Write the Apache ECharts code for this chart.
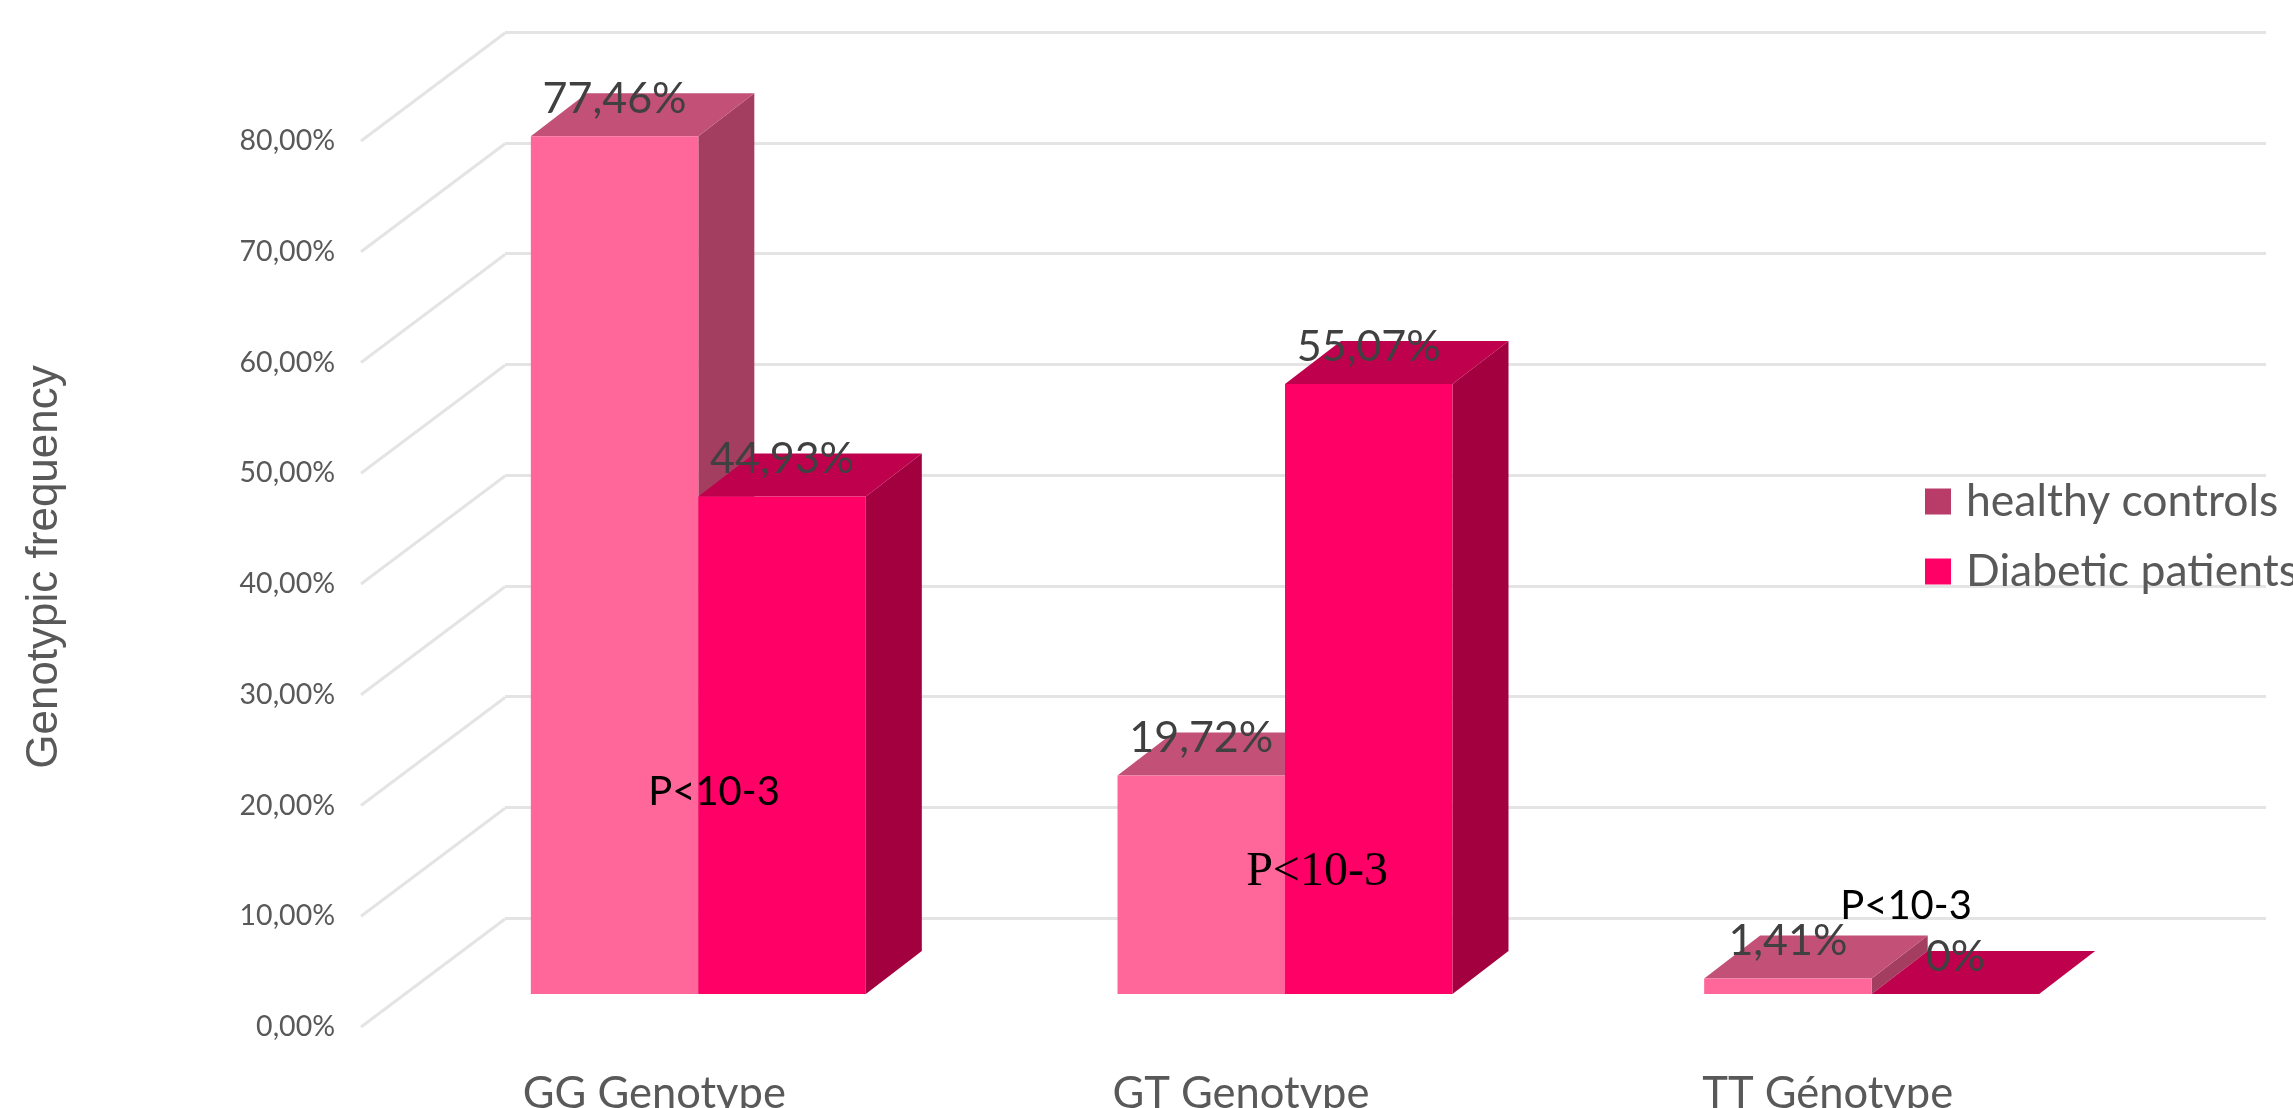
<!DOCTYPE html>
<html>
<head>
<meta charset="utf-8">
<style>html,body{margin:0;padding:0;background:#fff;overflow:hidden}#chart{width:2293px;height:1108px}</style>
<script src="https://cdn.jsdelivr.net/npm/echarts@6/dist/echarts.min.js"></script>
</head>
<body>
<div id="chart"></div>
<script>
const categories = ['GG Genotype', 'GT Genotype', 'TT Génotype'];
const healthyControls = [77.46, 19.72, 1.41];
const diabeticPatients = [44.93, 55.07, 0];
const yTicks = [0, 10, 20, 30, 40, 50, 60, 70, 80];
const seriesNames = ['healthy controls', 'Diabetic patients'];
const significanceNote = 'P<10-3';

const FONT = 'Lato, "Liberation Sans", sans-serif';
const WALL = { dx: 144, dy: -108 };    // axis plane to back wall
const FRONT = { dx: 44, dy: -33 };     // axis plane to bar front faces
const DEPTH = { dx: 56, dy: -43 };     // bar depth
const BAR_FRACTION = 167.5 / 586.7;    // bar width as a share of the category band

const percentLabel = v => v === 0 ? '0%' : v.toFixed(2).replace('.', ',') + '%';

// Extruded bar: front face, top and right side, with its value printed above the top.
function barRenderer(side, colors) {
  return function (params, api) {
    const idx = api.value(0), val = api.value(1);
    const top = api.coord([idx, val]);
    const base = api.coord([idx, 0]);
    const w = api.size([1, 0])[0] * BAR_FRACTION;
    const x0 = top[0] + FRONT.dx + (side < 0 ? -w : 0);
    const x1 = x0 + w;
    const yT = top[1] + FRONT.dy;
    const yB = base[1] + FRONT.dy;
    const poly = (points, fill) => ({ type: 'polygon', shape: { points }, style: { fill } });
    return {
      type: 'group',
      children: [
        poly([[x1, yT], [x1 + DEPTH.dx, yT + DEPTH.dy], [x1 + DEPTH.dx, yB + DEPTH.dy], [x1, yB]], colors.side),
        poly([[x0, yT], [x0 + DEPTH.dx, yT + DEPTH.dy], [x1 + DEPTH.dx, yT + DEPTH.dy], [x1, yT]], colors.top),
        poly([[x0, yT], [x1, yT], [x1, yB], [x0, yB]], colors.front),
        {
          type: 'text',
          style: {
            text: percentLabel(val),
            x: (x0 + x1) / 2,
            y: yT - 37,
            align: 'center',
            verticalAlign: 'middle',
            fill: '#404040',
            font: '43px ' + FONT
          }
        }
      ]
    };
  };
}

const option = {
  animation: false,
  backgroundColor: '#ffffff',
  legend: {
    orient: 'vertical',
    left: 1925,
    top: 479,
    padding: 0,
    itemWidth: 26,
    itemHeight: 26,
    itemGap: 25,
    icon: 'rect',
    textStyle: { color: '#595959', fontFamily: FONT, fontSize: 44.5, padding: [0, 0, 0, 10] },
    data: seriesNames
  },
  grid: [
    { left: 505, width: 1761, top: 32, height: 886, outerBoundsMode: 'none' },  // back wall
    { left: 361, width: 1760, top: 141, height: 886, outerBoundsMode: 'none' }  // axis plane
  ],
  xAxis: [
    { gridIndex: 0, type: 'category', data: categories, show: false },
    {
      gridIndex: 1, type: 'category', data: categories,
      axisLine: { show: false }, axisTick: { show: false },
      axisLabel: { color: '#595959', fontFamily: FONT, fontSize: 43.5, margin: 45, hideOverlap: false }
    }
  ],
  yAxis: [
    {
      gridIndex: 0, type: 'value', min: 0, max: 80, interval: 10,
      axisLabel: { show: false }, axisLine: { show: false }, axisTick: { show: false },
      splitLine: { lineStyle: { color: '#E4E4E4', width: 3 } }
    },
    {
      gridIndex: 1, type: 'value', min: 0, max: 80, interval: 10,
      axisLine: { show: false }, axisTick: { show: false }, splitLine: { show: false },
      axisLabel: {
        color: '#595959', fontFamily: FONT, fontSize: 28.5, margin: 26, padding: [10, 0, 0, 0],
        formatter: v => percentLabel(v === 0 ? 1e-9 : v)
      },
      name: 'Genotypic frequency', nameLocation: 'middle', nameGap: 294,
      nameTextStyle: { color: '#595959', fontFamily: '"Liberation Sans", sans-serif', fontSize: 44, padding: [0, 0, 0, 34] }
    }
  ],
  series: [
    {
      // Floor-to-wall guide lines joining each tick to its wall gridline.
      type: 'custom', xAxisIndex: 1, yAxisIndex: 1, z: 1, silent: true,
      data: yTicks.map(t => [0, t]),
      renderItem(params, api) {
        const p = api.coord([0, api.value(1)]);
        const x = params.coordSys.x;
        return {
          type: 'line',
          shape: { x1: x, y1: p[1], x2: x + WALL.dx, y2: p[1] + WALL.dy },
          style: { stroke: '#E4E4E4', lineWidth: 3 }
        };
      },
      encode: { x: 0, y: 1 }
    },
    {
      name: seriesNames[0], type: 'custom', xAxisIndex: 1, yAxisIndex: 1, z: 2, silent: true,
      itemStyle: { color: '#B83B68' },
      data: healthyControls.map((v, i) => [i, v]),
      encode: { x: 0, y: 1 },
      renderItem: barRenderer(-1, { front: '#FF6699', top: '#C25077', side: '#A33E60' })
    },
    {
      name: seriesNames[1], type: 'custom', xAxisIndex: 1, yAxisIndex: 1, z: 3, silent: true,
      itemStyle: { color: '#FF0066' },
      data: diabeticPatients.map((v, i) => [i, v]),
      encode: { x: 0, y: 1 },
      renderItem: barRenderer(1, { front: '#FF0066', top: '#BF004D', side: '#A3003F' })
    }
  ],
  graphic: [
    { type: 'text', z: 10, x: 714, y: 792, style: { text: significanceNote, align: 'center', verticalAlign: 'middle', fill: '#000', font: '40px ' + FONT } },
    { type: 'text', z: 10, x: 1317, y: 872, style: { text: significanceNote, align: 'center', verticalAlign: 'middle', fill: '#000', font: '48px "Liberation Serif", serif' } },
    { type: 'text', z: 10, x: 1906, y: 906, style: { text: significanceNote, align: 'center', verticalAlign: 'middle', fill: '#000', font: '40px ' + FONT } }
  ]
};

echarts.init(document.getElementById('chart'), null, { renderer: 'canvas' }).setOption(option);
</script>
</body>
</html>
